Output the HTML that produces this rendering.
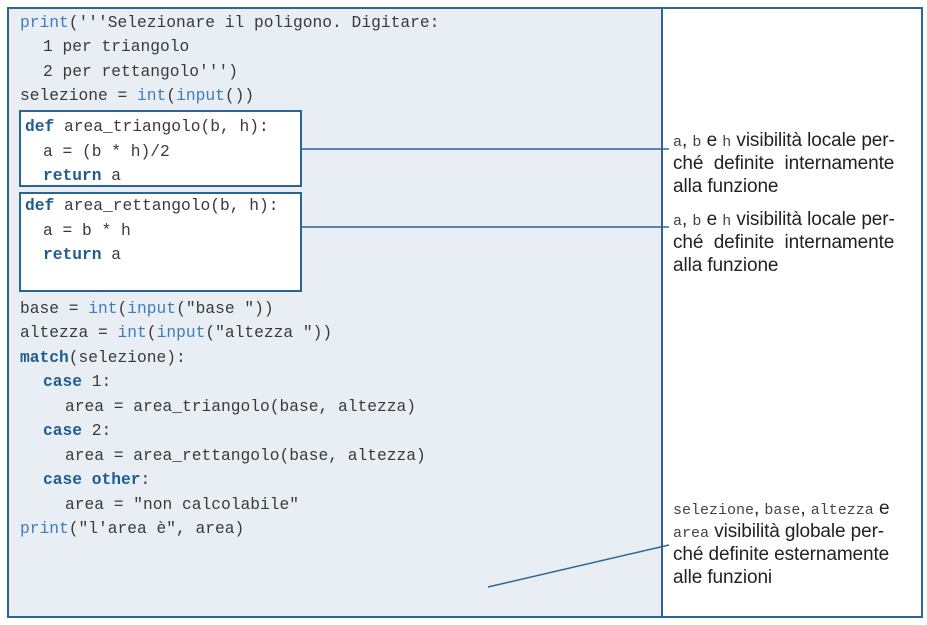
<!DOCTYPE html>
<html><head><meta charset="utf-8"><style>
body{margin:0;width:927px;height:625px;background:#fff;position:relative;overflow:hidden}
.outer{position:absolute;left:7px;top:7px;width:916px;height:611px;border:2px solid #2b6596;box-sizing:border-box}
.code{position:absolute;left:8px;top:8px;width:653px;height:608px;background:#e9eef5;border-right:2px solid #2b6596}
.l{position:absolute;font-family:"Liberation Mono",monospace;font-size:16.25px;color:#3a3a3a;white-space:pre;line-height:20px}
.b{color:#3f7db6}
.k{color:#1f5c8f;font-weight:bold}
.box{position:absolute;left:19px;width:283px;border:2px solid #2b6596;background:#fff;box-sizing:border-box}
.t{position:absolute;left:673px;font-family:"Liberation Sans",sans-serif;font-size:19px;color:#222;white-space:pre;line-height:20px;letter-spacing:-0.1px}
.m{font-family:"Liberation Mono",monospace;font-size:15px;color:#444;letter-spacing:0}
</style></head><body>
<div class="code"></div>
<div class="outer"></div>
<div class="box" style="top:110px;height:77px"></div>
<div class="box" style="top:192px;height:100px"></div>
<svg style="position:absolute;left:0;top:0" width="927" height="625">
<line x1="301" y1="149" x2="669" y2="149" stroke="#2b6596" stroke-width="1.5"/>
<line x1="301" y1="227" x2="669" y2="227" stroke="#2b6596" stroke-width="1.5"/>
<line x1="488" y1="587" x2="669" y2="545" stroke="#2b6596" stroke-width="1.5"/>
</svg>
<div class="l" style="left:20px;top:13px"><span class="b">print</span>('''Selezionare il poligono. Digitare:</div>
<div class="l" style="left:43px;top:37px">1 per triangolo</div>
<div class="l" style="left:43px;top:62px">2 per rettangolo''')</div>
<div class="l" style="left:20px;top:86px">selezione = <span class="b">int</span>(<span class="b">input</span>())</div>
<div class="l" style="left:25px;top:117px"><span class="k">def</span> area_triangolo(b, h):</div>
<div class="l" style="left:43px;top:142px">a = (b * h)/2</div>
<div class="l" style="left:43px;top:166px"><span class="k">return</span> a</div>
<div class="l" style="left:25px;top:196px"><span class="k">def</span> area_rettangolo(b, h):</div>
<div class="l" style="left:43px;top:221px">a = b * h</div>
<div class="l" style="left:43px;top:245px"><span class="k">return</span> a</div>
<div class="l" style="left:20px;top:299px">base = <span class="b">int</span>(<span class="b">input</span>("base "))</div>
<div class="l" style="left:20px;top:323px">altezza = <span class="b">int</span>(<span class="b">input</span>("altezza "))</div>
<div class="l" style="left:20px;top:348px"><span class="k">match</span>(selezione):</div>
<div class="l" style="left:43px;top:372px"><span class="k">case</span> 1:</div>
<div class="l" style="left:65px;top:397px">area = area_triangolo(base, altezza)</div>
<div class="l" style="left:43px;top:421px"><span class="k">case</span> 2:</div>
<div class="l" style="left:65px;top:446px">area = area_rettangolo(base, altezza)</div>
<div class="l" style="left:43px;top:470px"><span class="k">case</span> <span class="k">other</span>:</div>
<div class="l" style="left:65px;top:495px">area = "non calcolabile"</div>
<div class="l" style="left:20px;top:519px"><span class="b">print</span>("l'area è", area)</div>

<div class="t" style="top:131px"><span class="m">a</span>, <span class="m">b</span> e <span class="m">h</span> visibilità locale per-</div>
<div class="t" style="top:154px">ché  definite  internamente</div>
<div class="t" style="top:177px">alla funzione</div>
<div class="t" style="top:210px"><span class="m">a</span>, <span class="m">b</span> e <span class="m">h</span> visibilità locale per-</div>
<div class="t" style="top:233px">ché  definite  internamente</div>
<div class="t" style="top:256px">alla funzione</div>
<div class="t" style="top:499px"><span class="m">selezione</span>, <span class="m">base</span>, <span class="m">altezza</span> e</div>
<div class="t" style="top:522px"><span class="m">area</span> visibilità globale per-</div>
<div class="t" style="top:545px">ché definite esternamente</div>
<div class="t" style="top:568px">alle funzioni</div>
</body></html>
